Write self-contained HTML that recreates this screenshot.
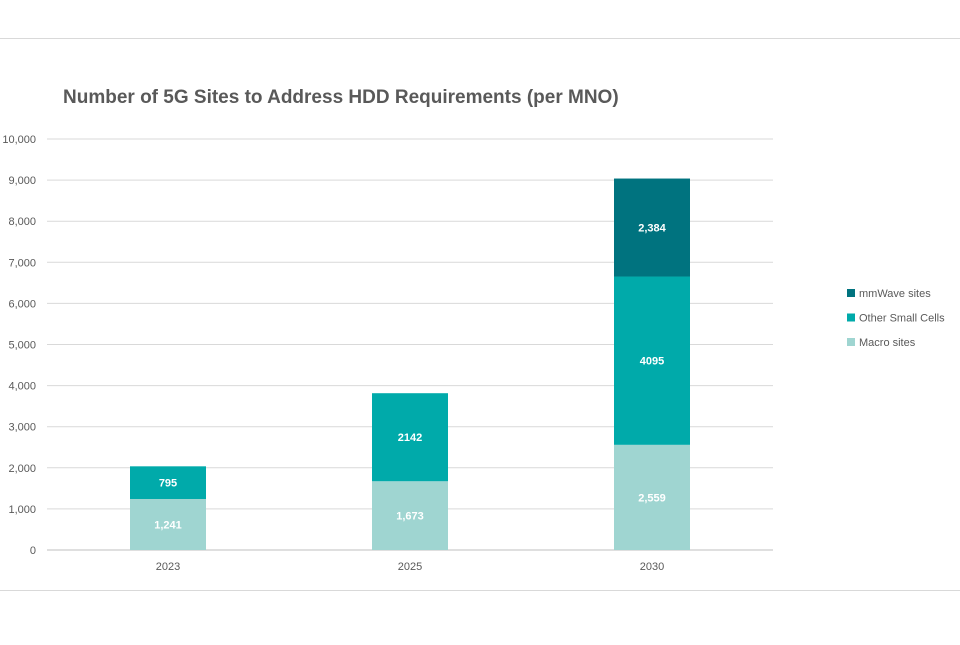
<!DOCTYPE html>
<html><head><meta charset="utf-8"><style>
body{margin:0;background:#fff;width:960px;height:640px;overflow:hidden;font-family:"Liberation Sans",sans-serif}
</style></head><body>
<svg id="chart" width="960" height="640">
<line x1="0" y1="38.5" x2="960" y2="38.5" stroke="#d9d9d9"/>
<line x1="0" y1="590.5" x2="960" y2="590.5" stroke="#d9d9d9"/>
<text x="63" y="103" font-size="19" font-weight="bold" fill="#595959">Number of 5G Sites to Address HDD Requirements (per MNO)</text>
<g id="grid"></g><g id="bars"></g><g id="legend"></g>
</svg>
<script>
const categories=["2023","2025","2030"];
const macro=[1241,1673,2559];
const small=[795,2142,4095];
const mmwave=[0,0,2384];
const macroLabels=["1,241","1,673","2,559"];
const smallLabels=["795","2142","4095"];
const mmLabels=["","","2,384"];
const yTicks=[0,1000,2000,3000,4000,5000,6000,7000,8000,9000,10000];
const seriesNames=["mmWave sites","Other Small Cells","Macro sites"];
const NS="http://www.w3.org/2000/svg";
const y=v=>550-v*0.0411;
const x=i=>168+i*242;
function mk(t,a,p){const e=document.createElementNS(NS,t);for(const k in a)e.setAttribute(k,a[k]);p.appendChild(e);return e;}
const grid=document.getElementById('grid');
yTicks.forEach(v=>{
 const l=mk('line',{x1:47,x2:773,y1:y(v),y2:y(v),stroke:v===0?'#bfbfbf':'#d9d9d9'},grid);
 
 
 const t=mk('text',{x:36,y:y(v)+4,'text-anchor':'end','font-size':11,fill:'#595959'},grid);
 t.textContent=v.toLocaleString('en-US');
 
 
});
const bars=document.getElementById('bars');
const cols=["#9fd5d1","#00aaaa","#00737f"];
categories.forEach((c,i)=>{
 const t=mk('text',{x:x(i),y:570,'text-anchor':'middle','font-size':11,fill:'#595959'},bars);
 t.textContent=c;
 
 
 let base=0;
 [[macro,macroLabels],[small,smallLabels],[mmwave,mmLabels]].forEach((s,k)=>{
  const v=s[0][i]; if(!v) return;
  const r=mk('rect',{x:x(i)-38,width:76,y:y(base+v),height:y(base)-y(base+v),fill:cols[k]},bars);
  
  
  const l=mk('text',{x:x(i),y:(y(base)+y(base+v))/2+4,'text-anchor':'middle','font-size':11,'font-weight':'bold',fill:'#fff'},bars);
  l.textContent=s[1][i];
  
  
  base+=v;
 });
});
const lg=document.getElementById('legend');
const lc=["#00737f","#00aaaa","#9fd5d1"];
seriesNames.forEach((n,k)=>{
 const yy=293+k*24.5;
 const r=mk('rect',{x:847,y:yy-4,width:8,height:8,fill:lc[k]},lg);
 
 
 const t=mk('text',{x:859,y:yy+4,'font-size':11,fill:'#595959'},lg);
 t.textContent=n;
 
 
});
</script>
</body></html>
